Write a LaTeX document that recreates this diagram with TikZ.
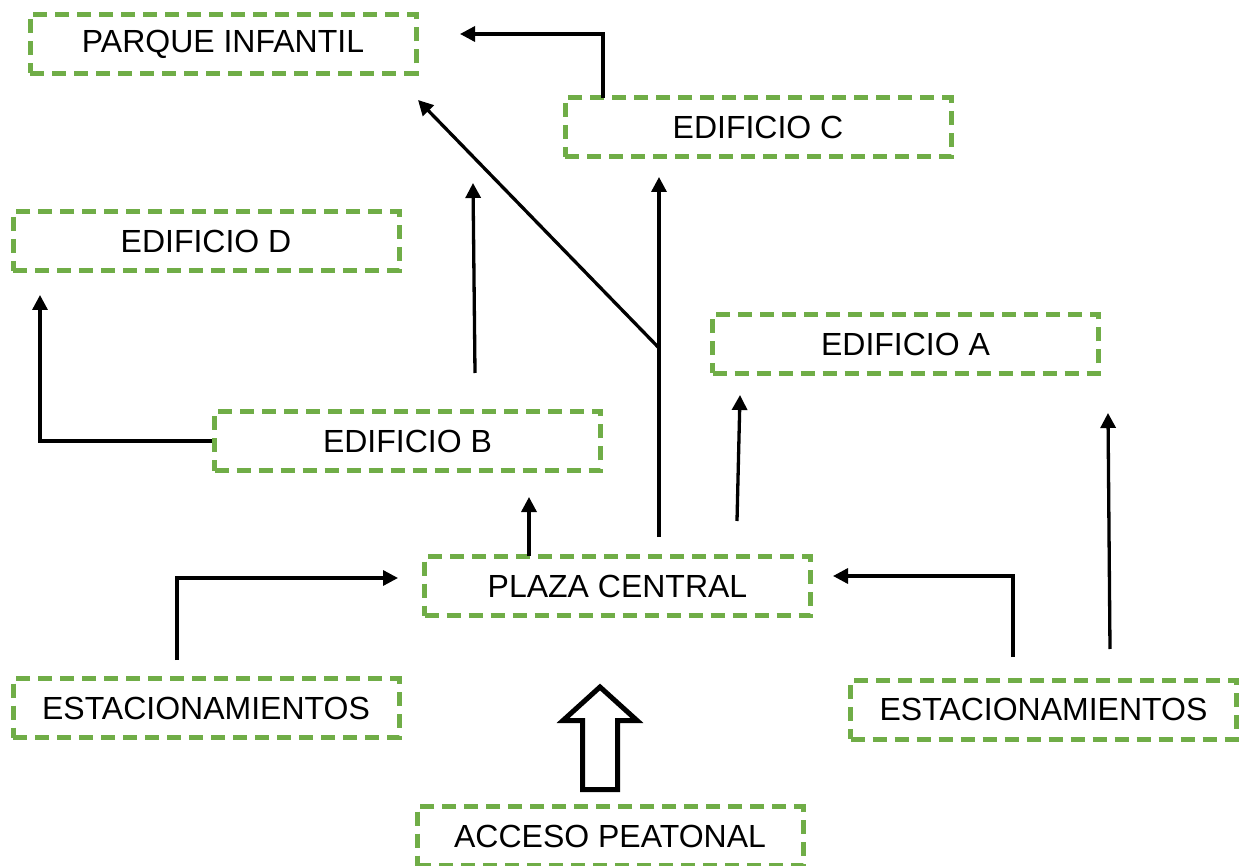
\documentclass[tikz,border=0pt]{standalone}
\usepackage{fontspec}
\setmainfont{Liberation Sans}
\usetikzlibrary{arrows.meta}
\definecolor{boxgreen}{HTML}{70AD47}
\begin{document}
\begin{tikzpicture}[x=1pt,y=-1pt,
  box/.style={draw=boxgreen, line width=5pt, dash pattern=on 14pt off 8pt,
    minimum width=386pt, minimum height=59pt, inner sep=0pt,
    font=\fontsize{32}{38}\selectfont},
  conn/.style={line width=3.3pt, -{Triangle[length=15pt,width=15pt]}},
  hollow/.style={line width=5pt, line join=miter, fill=white}
  ]
\useasboundingbox (0,0) rectangle (1240,866);
\fill[white] (0,0) rectangle (1240,866);

% boxes
\node[box] (parque) at (223,44) {PARQUE INFANTIL};
\node[box] (edC) at (758,127.5) {EDIFICIO C};
\node[box] (edD) at (206,241.5) {EDIFICIO D};
\node[box] (edA) at (905.5,344) {EDIFICIO A};
\node[box] (edB) at (407.5,441) {EDIFICIO B};
\node[box] (plaza) at (617.5,586) {PLAZA CENTRAL};
\node[box] (estL) at (206,708) {ESTACIONAMIENTOS};
\node[box] (estR) at (1043.5,709.5) {ESTACIONAMIENTOS};
\node[box] (acc) at (610,836) {ACCESO PEATONAL};

% free ends
\coordinate (cStart) at (603,98);
\coordinate (pTip) at (460,34);
\coordinate (dTip) at (40,295);
\coordinate (b2Start) at (475,373);
\coordinate (b2Tip) at (473,183);
\coordinate (mStart) at (659,537);
\coordinate (mTip) at (659,177);
\coordinate (jn) at (659,348);
\coordinate (dgTip) at (418,100);
\coordinate (aStart) at (737,521);
\coordinate (aTip) at (740,395);
\coordinate (rrStart) at (1110,649);
\coordinate (rrTip) at (1108,413);
\coordinate (bStart) at (529,556);
\coordinate (bTip) at (529,497);
\coordinate (lStart) at (177,660);
\coordinate (lTip) at (398,578);
\coordinate (rStart) at (1013,657);
\coordinate (rTip) at (833,576);

% connectors
\draw[conn] (cStart) |- (pTip);
\draw[conn] (edB.west) -| (dTip);
\draw[conn] (b2Start) -- (b2Tip);
\draw[conn] (mStart) -- (mTip);
\draw[conn] (jn) -- (dgTip);
\draw[conn] (aStart) -- (aTip);
\draw[conn] (rrStart) -- (rrTip);
\draw[conn] (bStart) -- (bTip);
\draw[conn] (lStart) |- (lTip);
\draw[conn] (rStart) |- (rTip);

% hollow block arrow
\draw[hollow] (582.5,789.5) -- (582.5,720.5) -- (563,720.5) -- (600,687)
  -- (637,720.5) -- (617.5,720.5) -- (617.5,789.5) -- cycle;
\end{tikzpicture}
\end{document}
